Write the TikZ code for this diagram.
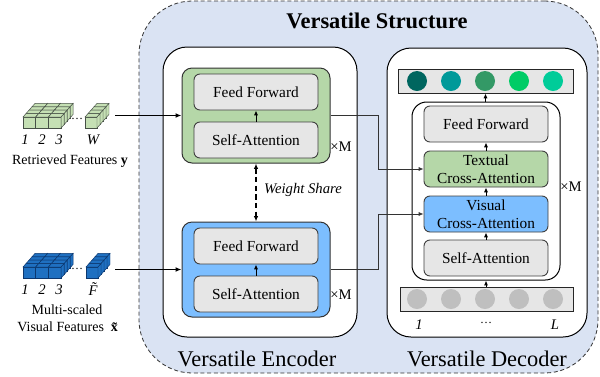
\documentclass[tikz,border=0pt]{standalone}
\usepackage{fontspec}
\setmainfont{Liberation Serif}
\usetikzlibrary{arrows.meta}
\newcommand\pxu[1]{#1*0.75pt}
\definecolor{outerblue}{RGB}{218,227,243}
\definecolor{blkgreen}{RGB}{181,215,168}
\definecolor{blkblue}{RGB}{124,190,255}
\definecolor{boxgray}{RGB}{230,230,230}
\definecolor{dotgray}{RGB}{191,191,191}
\definecolor{oc1}{RGB}{0,102,95}
\definecolor{oc2}{RGB}{0,153,153}
\definecolor{oc3}{RGB}{51,153,102}
\definecolor{oc4}{RGB}{0,204,102}
\definecolor{oc5}{RGB}{0,204,153}
\definecolor{cubegreen}{RGB}{197,224,180}
\definecolor{cubegreenline}{RGB}{70,80,70}
\definecolor{cubeblue}{RGB}{31,112,193}
\definecolor{cubeblueline}{RGB}{12,55,110}
\def\cubeh{11}
\def\cdx{3}
\def\cdy{3.4}
\newcommand\mycube[4]{%
  \filldraw[#4] ({#1},{#2}) rectangle ({#1+#3},{#2-\cubeh});
  \filldraw[#4] ({#1},{#2-\cubeh}) -- ({#1+#3},{#2-\cubeh}) -- ({#1+#3+\cdx},{#2-\cubeh-\cdy}) -- ({#1+\cdx},{#2-\cubeh-\cdy}) -- cycle;
  \filldraw[#4] ({#1+#3},{#2}) -- ({#1+#3+\cdx},{#2-\cdy}) -- ({#1+#3+\cdx},{#2-\cubeh-\cdy}) -- ({#1+#3},{#2-\cubeh}) -- cycle;
}
\begin{document}
\begin{tikzpicture}[x=0.75pt,y=-0.75pt,
  font=\fontsize{11.5}{13.5}\selectfont,
  box/.style={draw=black!75, line width=0.7pt, rounded corners=4.5pt,
    minimum width=\pxu{124}, minimum height=\pxu{36}, inner sep=0pt, align=center},
  graybox/.style={box, fill=boxgray},
  greenbox/.style={box, fill=blkgreen},
  bluebox/.style={box, fill=blkblue},
  block/.style={draw=black!80, line width=0.75pt, rounded corners=7.5pt,
    minimum width=\pxu{148}, minimum height=\pxu{95}, inner sep=0pt},
  whitebox/.style={draw=black, line width=0.75pt, fill=white, rounded corners=18pt, inner sep=0pt},
  bar/.style={draw=black!85, line width=0.7pt, fill=boxgray, minimum height=\pxu{24}, inner sep=0pt},
  tok/.style={circle, inner sep=0pt, minimum size=\pxu{20}},
  arr/.style={-{Latex[length=3.6pt,width=3pt]}, line width=0.7pt},
  inarr/.style={-{Latex[length=4.5pt,width=3.6pt]}, line width=1.1pt},
  outline/.style={-{Latex[length=3.6pt,width=3pt]}, line width=0.6pt, draw=black!80},
  gcube/.style={fill=cubegreen, draw=cubegreenline, line width=0.35pt},
  bcube/.style={fill=cubeblue, draw=cubeblueline, line width=0.35pt},
  times/.style={font=\fontsize{11}{13}\selectfont},
  biglabel/.style={font=\fontsize{16.8}{18}\selectfont},
  sidelabel/.style={font=\fontsize{10.5}{12}\selectfont, align=center},
  idx/.style={font=\fontsize{11}{12}\itshape}
]
\useasboundingbox (0,0) rectangle (600,376);

% outer region
\node[draw=black!80, dashed, dash pattern=on 3pt off 2pt, line width=0.6pt, fill=outerblue,
  rounded corners=40pt, minimum width=\pxu{459}, minimum height=\pxu{372}, inner sep=0pt]
  (outer) at (368.5,187) {};
\node[font=\fontsize{16.8}{18}\bfseries\selectfont] (title) at (377,21) {Versatile Structure};

% encoder
\node[whitebox, minimum width=\pxu{194}, minimum height=\pxu{290}] (enc) at (260,192) {};
\node[block, fill=blkgreen] (green) at (256,115.5) {};
\node[graybox] (ff1) at (256,92) {Feed Forward};
\node[graybox] (sa1) at (256,140) {Self-Attention};
\node[block, fill=blkblue] (blue) at (256,269.5) {};
\node[graybox] (ff2) at (256,246) {Feed Forward};
\node[graybox] (sa2) at (256,294) {Self-Attention};
\node[times] (xm1) at (341,147) {×M};
\node[times] (xm2) at (341,295) {×M};
\draw[arr] (sa1) -- (ff1);
\draw[arr] (sa2) -- (ff2);
\draw[{Latex[length=4pt,width=3.3pt]}-{Latex[length=4pt,width=3.3pt]}, line width=1.1pt,
  dash pattern=on 4pt off 2.5pt] (green.south) -- (blue.north);
\node[font=\fontsize{11}{12}\itshape] (ws) at (303,190) {Weight Share};
\node[biglabel] (enclabel) at (257,359) {Versatile Encoder};

% decoder
\node[whitebox, minimum width=\pxu{200}, minimum height=\pxu{289}] (dec) at (487,192.5) {};
\node[draw=black, line width=0.75pt, fill=white, rounded corners=11pt,
  minimum width=\pxu{148}, minimum height=\pxu{178}, inner sep=0pt] (inner) at (486,191) {};
\node[graybox] (ff3) at (486,124) {Feed Forward};
\node[greenbox] (tca) at (486,169) {Textual\\Cross-Attention};
\node[bluebox] (vca) at (486,214) {Visual\\Cross-Attention};
\node[graybox] (sa3) at (486,258) {Self-Attention};
\node[times] (xm3) at (571,187) {×M};
\draw[arr] (sa3) -- (vca);
\draw[arr] (vca) -- (tca);
\draw[arr] (tca) -- (ff3);

\node[bar, minimum width=\pxu{175}] (outbar) at (485.5,81) {};
\node[tok, fill=oc1] (o1) at (417,81) {};
\node[tok, fill=oc2] (o2) at (451,81) {};
\node[tok, fill=oc3] (o3) at (485,81) {};
\node[tok, fill=oc4] (o4) at (519,81) {};
\node[tok, fill=oc5] (o5) at (553,81) {};
\draw[arr] (inner.north -| outbar) -- (outbar.south);

\node[bar, minimum width=\pxu{173}] (inbar) at (486.5,299) {};
\node[tok, fill=dotgray] (i1) at (417,299) {};
\node[tok, fill=dotgray] (i2) at (451,299) {};
\node[tok, fill=dotgray] (i3) at (485,299) {};
\node[tok, fill=dotgray] (i4) at (519,299) {};
\node[tok, fill=dotgray] (i5) at (553,299) {};
\draw[arr] (inbar.north -| inner) -- (inner.south);
\node[idx] (l1) at (419,325) {1};
\node[font=\fontsize{9}{10}\selectfont] (ldots) at (486,323) {\ldots};
\node[idx] (lL) at (555,325) {L};
\node[biglabel] (declabel) at (487,359) {Versatile Decoder};

% encoder -> decoder connectors
\coordinate (j1) at (378,0);
\draw[outline] (green.east) -- (green.east -| j1) |- (tca.west);
\draw[outline] (blue.east) -- (blue.east -| j1) |- (vca.west);

% input features
\foreach \k in {3,2,1,0}{
  \foreach \i in {0,1,2}{
    \mycube{23+\i*12.7+\k*\cdx}{128-\k*\cdy}{12.7}{gcube}
  }
  \mycube{85+\k*\cdx}{128-\k*\cdy}{12}{gcube}
}
\foreach \k in {3,2,1,0}{
  \foreach \i in {0,1,2}{
    \mycube{23+\i*12.7+\k*\cdx}{278-\k*\cdy}{12.7}{bcube}
  }
  \mycube{86+\k*\cdx}{278-\k*\cdy}{12}{bcube}
}
\node[font=\fontsize{9}{10}\selectfont] (gd) at (77,119) {\ldots};
\node[font=\fontsize{9}{10}\selectfont] (bd) at (77,269) {\ldots};
\node[idx] (g1) at (25,140) {1};
\node[idx] (g2) at (42,140) {2};
\node[idx] (g3) at (59,140) {3};
\node[idx] (gW) at (93,140) {W};
\node[idx] (b1) at (25,290) {1};
\node[idx] (b2) at (42,290) {2};
\node[idx] (b3) at (59,290) {3};
\node[idx] (bF) at (93,289) {\~F};
\node[sidelabel] (ylab) at (70,161) {Retrieved Features \textbf{y}};
\node[sidelabel] (xlab1) at (67,310) {Multi-scaled};
\node[sidelabel] (xlab2) at (70,327) {Visual Features\ \ \textbf{\~x}};

\coordinate (yin) at (115,115.5);
\coordinate (xin) at (115,269.5);
\draw[inarr] (yin) -- (green.west);
\draw[inarr] (xin) -- (blue.west);
\end{tikzpicture}
\end{document}
